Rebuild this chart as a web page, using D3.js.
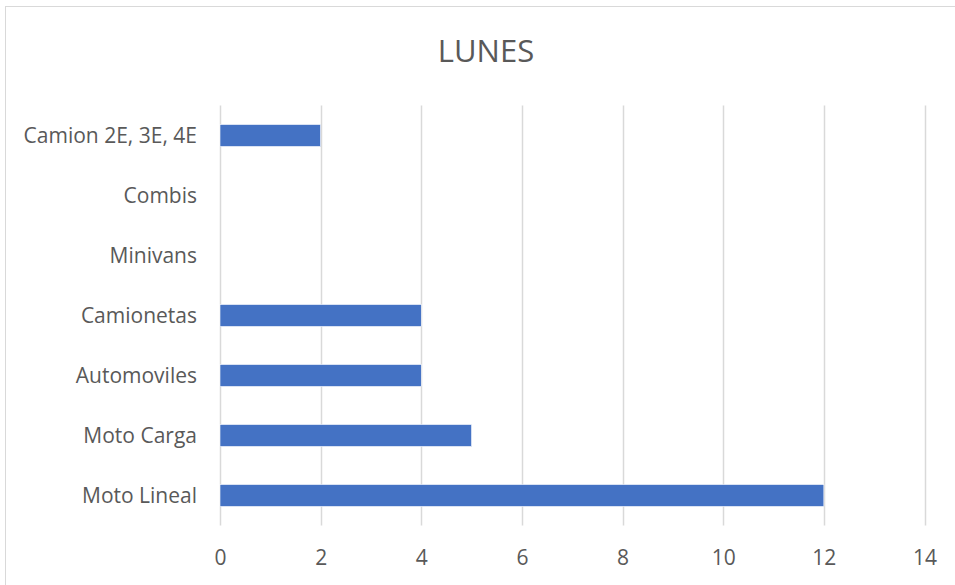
<!DOCTYPE html>
<html>
<head>
<meta charset="utf-8">
<script src="https://cdn.jsdelivr.net/npm/d3@7"></script>
<style>
  html, body { margin: 0; padding: 0; background: #fff; }
  svg { display: block; }
  text { font-family: "Open Sans", "Noto Sans", sans-serif; fill: #595959; }
</style>
</head>
<body>
<svg id="chart" width="955" height="585"></svg>
<script>
// Vehicle counts for Monday, top to bottom
const categories = ["Camion 2E, 3E, 4E", "Combis", "Minivans", "Camionetas", "Automoviles", "Moto Carga", "Moto Lineal"];
const values = [2, 0, 0, 4, 4, 5, 12];
const xTicks = [0, 2, 4, 6, 8, 10, 12, 14];
const title = "LUNES";

const svg = d3.select("#chart");
const margin = { left: 220, right: 30.5, top: 105.5, bottom: 59.5 };
const W = 955, H = 585;

// chart frame
svg.append("rect")
  .attr("x", 5.5).attr("y", 6.5)
  .attr("width", 960).attr("height", 600)
  .attr("fill", "#fff").attr("stroke", "#d9d9d9").attr("stroke-width", 1);

const x = d3.scaleLinear().domain([0, 14]).range([margin.left, W - margin.right]);
const y = d3.scaleBand().domain(categories)
  .range([margin.top, H - margin.bottom]).paddingInner(0.633).paddingOuter(0.3165);

// vertical gridlines
svg.append("g").selectAll("line").data(xTicks).join("line")
  .attr("x1", d => Math.round(x(d)) + 0.5).attr("x2", d => Math.round(x(d)) + 0.5)
  .attr("y1", margin.top).attr("y2", H - margin.bottom)
  .attr("stroke", "#d9d9d9").attr("stroke-width", 1.5);

// bars
svg.append("g").selectAll("rect").data(categories.map((c, i) => ({ c, v: values[i] })))
  .join("rect")
  .attr("x", x(0))
  .attr("y", d => y(d.c))
  .attr("width", d => x(d.v) - x(0))
  .attr("height", y.bandwidth())
  .attr("fill", "#4472c4")
  .attr("stroke", d => d.v > 0 ? "#fff" : "none")
  .attr("stroke-width", 0.6);

// x axis labels
const xAxis = d3.axisBottom(x).tickValues(xTicks).tickSize(0).tickPadding(0);
const gx = svg.append("g").attr("transform", `translate(0,${H - margin.bottom})`).call(xAxis);
gx.select(".domain").remove();
gx.selectAll("text")
  .attr("y", 39).attr("dy", null)
  .style("font-size", "21px").style("fill", "#595959")
  .style("font-family", '"Open Sans", sans-serif');

// category labels
const yAxis = d3.axisLeft(y).tickSize(0).tickPadding(23);
const gy = svg.append("g").attr("transform", `translate(${margin.left},0)`).call(yAxis);
gy.select(".domain").remove();
gy.selectAll("text")
  .attr("dy", "0.35em")
  .style("font-size", "21px").style("fill", "#595959")
  .style("font-family", '"Open Sans", sans-serif');

// title
svg.append("text")
  .attr("x", 486).attr("y", 62)
  .attr("text-anchor", "middle")
  .style("font-size", "31px")
  .text(title);
</script>
</body>
</html>
